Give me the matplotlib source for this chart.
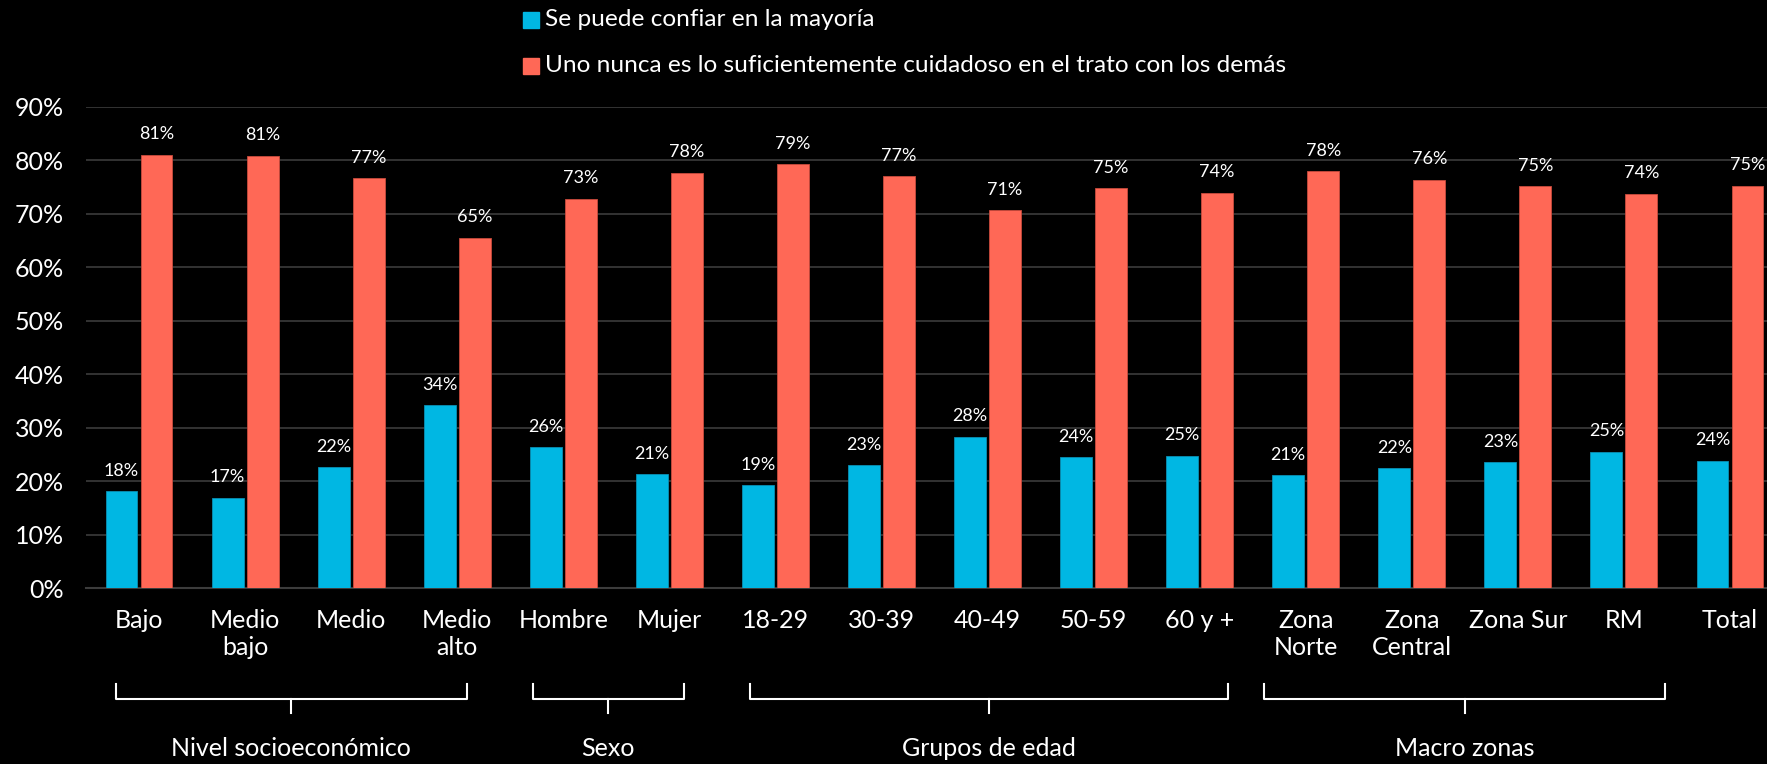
import matplotlib
matplotlib.use("Agg")
import matplotlib.pyplot as plt
import matplotlib.transforms as mtransforms
import numpy as np

plt.rcParams['font.family'] = ['Lato', 'DejaVu Sans']

# datos
categorias = ["Bajo", "Medio\nbajo", "Medio", "Medio\nalto", "Hombre", "Mujer",
              "18-29", "30-39", "40-49", "50-59", "60 y +",
              "Zona\nNorte", "Zona\nCentral", "Zona Sur", "RM", "Total"]
confiar = [18.1, 16.9, 22.6, 34.2, 26.3, 21.3, 19.2, 23.0, 28.3, 24.5, 24.7,
           21.1, 22.4, 23.5, 25.5, 23.8]
cuidadoso = [81.1, 80.9, 76.7, 65.5, 72.8, 77.7, 79.3, 77.0, 70.7, 74.8, 74.0,
             78.0, 76.4, 75.2, 73.8, 75.3]
etiq_confiar = ["18%", "17%", "22%", "34%", "26%", "21%", "19%", "23%", "28%",
                "24%", "25%", "21%", "22%", "23%", "25%", "24%"]
etiq_cuidadoso = ["81%", "81%", "77%", "65%", "73%", "78%", "79%", "77%", "71%",
                  "75%", "74%", "78%", "76%", "75%", "74%", "75%"]
serie_nombres = ["Se puede confiar en la mayoría",
                 "Uno nunca es lo suficientemente cuidadoso en el trato con los demás"]
grupos = ["Nivel socioeconómico", "Sexo", "Grupos de edad", "Macro zonas"]
# extremos de cada llave, en unidades de categoría
grupo_llaves = [(-0.22, 3.09), (3.71, 5.14), (5.76, 10.27), (10.61, 14.39)]

AZUL = "#00B7E3"
ROJO = "#FF6856"
W, H = 1767, 764

fig = plt.figure(figsize=(W / 100, H / 100), dpi=100, facecolor="black")
ax = fig.add_axes([86 / W, 1 - 588 / H, (1783 - 86) / W, (588 - 107) / H])
ax.set_facecolor("black")

x = np.arange(len(categorias))
ancho = 0.30
off = 0.165
b1 = ax.bar(x - off, confiar, ancho, color=AZUL, edgecolor="#0a8fb3", linewidth=0.6, zorder=3)
b2 = ax.bar(x + off, cuidadoso, ancho, color=ROJO, edgecolor="#c94a3c", linewidth=0.6, zorder=3)

for rect, txt in zip(b1, etiq_confiar):
    ax.annotate(txt, (rect.get_x() + rect.get_width() / 2, rect.get_height()),
                xytext=(0, 9), textcoords="offset points", ha="center", va="bottom",
                color="white", fontsize=13)
for rect, txt in zip(b2, etiq_cuidadoso):
    ax.annotate(txt, (rect.get_x() + rect.get_width() / 2, rect.get_height()),
                xytext=(0, 9), textcoords="offset points", ha="center", va="bottom",
                color="white", fontsize=13)

ax.set_xlim(-0.5, len(categorias) - 0.5)
ax.set_ylim(0, 90)
ax.set_yticks(range(0, 91, 10))
ax.set_yticklabels([f"{v}%" for v in range(0, 91, 10)])
ax.set_xticks(x)
ax.set_xticklabels(categorias, linespacing=1.2)
ax.tick_params(axis="x", length=0, pad=15, labelsize=18, colors="white")
ax.tick_params(axis="y", length=0, pad=16, labelsize=18, colors="white")
ax.grid(axis="y", color="#3c3c3c", linewidth=1.2, zorder=0)
for s in ["top", "left", "right"]:
    ax.spines[s].set_visible(False)
ax.spines["bottom"].set_color("#3c3c3c")
ax.spines["bottom"].set_linewidth(1.5)

# llaves de grupos
tr = mtransforms.blended_transform_factory(ax.transData, fig.transFigure)
y_top = 1 - 684 / H
y_mid = 1 - 699 / H
y_bot = 1 - 713 / H
for nombre, (x0, x1) in zip(grupos, grupo_llaves):
    xc = (x0 + x1) / 2
    ax.plot([x0, x0, x1, x1], [y_top, y_mid, y_mid, y_top], transform=tr,
            color="white", linewidth=1.5, clip_on=False)
    ax.plot([xc, xc], [y_mid, y_bot], transform=tr, color="white",
            linewidth=1.5, clip_on=False)
    ax.text(xc, 1 - 748 / H, nombre, transform=tr, ha="center", va="center",
            color="white", fontsize=18)

# leyenda
for i, (nombre, color) in enumerate(zip(serie_nombres, [AZUL, ROJO])):
    yy = 1 - (20 + 46 * i) / H
    fig.patches.append(plt.Rectangle((523 / W, yy - 8 / H), 16 / W, 16 / H,
                                     color=color, transform=fig.transFigure))
    fig.text(545 / W, yy, nombre, color="white", fontsize=17.6, va="center", ha="left")

fig.savefig("out.png", dpi=100, facecolor="black")
